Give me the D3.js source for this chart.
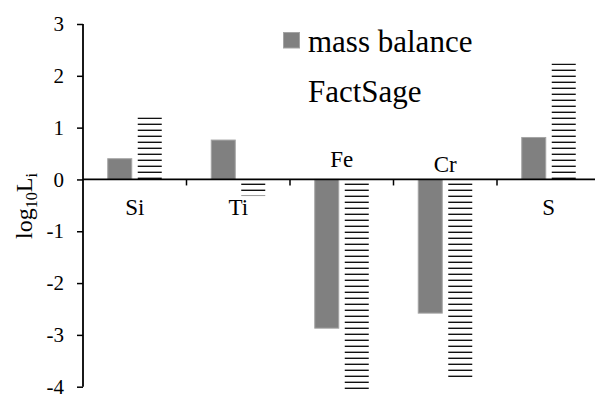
<!DOCTYPE html>
<html>
<head>
<meta charset="utf-8">
<script src="https://cdn.jsdelivr.net/npm/d3@7"></script>
<style>
  html, body { margin: 0; padding: 0; background: #fff; }
  svg { display: block; }
  svg text { font-family: "Liberation Serif", Tinos, "Times New Roman", Times, "DejaVu Serif", serif !important; fill: #000; }
</style>
</head>
<body>
<svg id="chart" width="595" height="394"></svg>
<script>
// Distribution ratios (log10 Li) per element
const categories = ["Si", "Ti", "Fe", "Cr", "S"];
const seriesNames = ["mass balance", "FactSage"];
const massBalance = [0.40, 0.76, -2.87, -2.58, 0.81];
const factSage = [1.20, -0.32, -4.05, -3.82, 2.24];
const yTicks = [-4, -3, -2, -1, 0, 1, 2, 3];

const serif = "'Liberation Serif', Tinos, 'Times New Roman', Times, 'DejaVu Serif', serif";
const svg = d3.select("#chart");

// hatch pattern for the FactSage bars: narrow horizontal lines
const defs = svg.append("defs");
const pat = defs.append("pattern")
  .attr("id", "hlines")
  .attr("patternUnits", "userSpaceOnUse")
  .attr("width", 8).attr("height", 6);
pat.append("rect").attr("width", 8).attr("height", 6).attr("fill", "#fff");
pat.append("rect").attr("x", 0).attr("y", 3.6).attr("width", 8).attr("height", 1.4).attr("fill", "#111");

const x0 = d3.scaleBand().domain(categories).range([83, 600.5]);
const x1 = d3.scaleBand().domain(seriesNames).range([0, 54]).paddingInner(0.2);
const y = d3.scaleLinear().domain([-4, 3]).range([386.7, 24]);

const groupOffset = (x0.bandwidth() - 54) / 2;

const rows = categories.map((c, i) => ({
  cat: c,
  vals: [
    { s: seriesNames[0], v: massBalance[i] },
    { s: seriesNames[1], v: factSage[i] }
  ]
}));

const gBars = svg.append("g");
const groups = gBars.selectAll("g.cat").data(rows).join("g")
  .attr("class", "cat")
  .attr("transform", d => `translate(${x0(d.cat) + groupOffset},0)`);

groups.selectAll("rect").data(d => d.vals).join("rect")
  .attr("x", d => x1(d.s))
  .attr("width", x1.bandwidth())
  .attr("y", d => Math.min(y(d.v), y(0)))
  .attr("height", d => Math.abs(y(d.v) - y(0)))
  .attr("fill", d => d.s === seriesNames[0] ? "#808080" : "url(#hlines)")
  .attr("stroke", d => d.s === seriesNames[0] ? "#a4a4a4" : "none")
  .attr("stroke-width", 1);

// y axis
const yAxis = d3.axisLeft(y).tickValues(yTicks).tickSize(6).tickPadding(13)
  .tickFormat(d => String(d).replace("\u2212", "-"));
const gy = svg.append("g").attr("transform", "translate(83,0)").call(yAxis)
  .attr("font-family", serif).attr("font-size", 21);
gy.select(".domain").attr("stroke", "#000").attr("stroke-width", 1.8)
  .attr("d", `M0,${y(3)}V${y(-4)}`);
gy.selectAll(".tick line").attr("stroke", "#000").attr("stroke-width", 1.5);
gy.selectAll(".tick text").attr("fill", "#000");

// x axis along zero
const boundaries = categories.slice(1).map(c => x0(c));
const gx = svg.append("g");
gx.append("line")
  .attr("x1", x0.range()[0]).attr("x2", x0.range()[1])
  .attr("y1", y(0)).attr("y2", y(0))
  .attr("stroke", "#000").attr("stroke-width", 1.8);
gx.selectAll("line.tick").data(boundaries).join("line")
  .attr("class", "tick")
  .attr("x1", d => d).attr("x2", d => d)
  .attr("y1", y(0)).attr("y2", y(0) + 6)
  .attr("stroke", "#000").attr("stroke-width", 1.5);

// category labels: below the axis, above it where both bars point down
const labelNudge = { Fe: -12.5, Cr: -7.5 };
gx.selectAll("text.cat").data(rows).join("text")
  .attr("class", "cat")
  .attr("x", d => x0(d.cat) + x0.bandwidth() / 2)
  .attr("y", d => {
    const allNeg = d.vals.every(v => v.v < 0);
    return allNeg ? y(0) + labelNudge[d.cat] : y(0) + 35.5;
  })
  .attr("text-anchor", "middle")
  .attr("font-family", serif)
  .attr("font-size", 23)
  .text(d => d.cat);

// y axis title: log10 Li
const yt = svg.append("text")
  .attr("transform", "translate(32,206) rotate(-90)")
  .attr("text-anchor", "middle")
  .attr("font-family", serif)
  .attr("font-size", 24);
yt.append("tspan").text("log");
yt.append("tspan").attr("dy", 5).attr("font-size", 16).text("10");
yt.append("tspan").attr("dy", -5).text("L");
yt.append("tspan").attr("dy", 5).attr("font-size", 16).text("i");

// legend
const lg = svg.append("g").attr("font-family", serif).attr("font-size", 31);
lg.append("rect").attr("x", 283.5).attr("y", 32.5).attr("width", 16).attr("height", 15.5)
  .attr("fill", "#808080").attr("stroke", "#a4a4a4");
lg.append("text").attr("x", 308).attr("y", 51.7).text(seriesNames[0]);
lg.append("text").attr("x", 308).attr("y", 101.7).text(seriesNames[1]);
</script>
</body>
</html>
